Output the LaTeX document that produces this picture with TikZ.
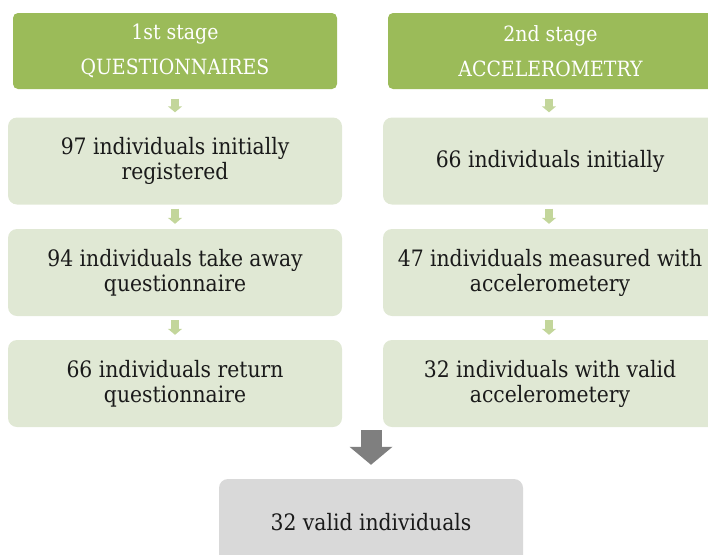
\documentclass[tikz,border=0pt]{standalone}
\usepackage{fontspec}
\setmainfont{DejaVu Serif Condensed}
\usetikzlibrary{arrows.meta}
\definecolor{hdrgreen}{HTML}{9BBB59}
\definecolor{boxgreen}{HTML}{E0E8D4}
\definecolor{arrgreen}{HTML}{C3D69B}
\definecolor{arrgray}{HTML}{7F7F7F}
\definecolor{boxgray}{HTML}{D9D9D9}
\definecolor{txt}{HTML}{1A1A1A}
\tikzset{
  hdr/.style={fill=hdrgreen, rounded corners=5pt, minimum width=324pt, minimum height=76pt,
    text=white, align=center, font=\fontsize{21}{35}\selectfont, inner sep=0pt},
  stagebox/.style={fill=boxgreen, rounded corners=9pt, minimum width=334pt, minimum height=87pt,
    text=txt, align=center, font=\fontsize{22.6}{25}\selectfont, inner sep=0pt},
  finalbox/.style={fill=boxgray, rounded corners=9pt, minimum width=304pt, minimum height=86pt,
    text=txt, align=center, font=\fontsize{22.6}{25}\selectfont, inner sep=0pt},
  smallarr/.style={draw=arrgreen, line width=8pt, -{Triangle[length=6pt,width=14pt]}},
  bigarr/.style={draw=arrgray, line width=21pt, -{Triangle[length=18pt,width=42pt]}}
}
\begin{document}
\begin{tikzpicture}[x=1pt,y=-1pt]
\useasboundingbox (0,0) rectangle (708,554);
\clip (0,0) rectangle (708,554);
% left column
\node[hdr] (h1) at (175,51) {1st stage\\QUESTIONNAIRES};
\node[stagebox] (l1) at (175,161) {97 individuals initially\\registered};
\node[stagebox] (l2) at (175,272.5) {94 individuals take away\\questionnaire};
\node[stagebox] (l3) at (175,383.5) {66 individuals return\\questionnaire};
% right column
\node[hdr, minimum width=325pt] (h2) at (550.5,51) {2nd stage\\ACCELEROMETRY};
\node[stagebox] (r1) at (550,161) {66 individuals initially};
\node[stagebox] (r2) at (550,272.5) {47 individuals measured with\\accelerometery};
\node[stagebox] (r3) at (550,383.5) {32 individuals with valid\\accelerometery};
% final
\node[finalbox] (fin) at (371,522) {32 valid individuals};
% small arrows
\draw[smallarr, shorten <=9.5pt, shorten >=5pt] (h1.south) -- (l1.north);
\draw[smallarr, shorten <=4pt, shorten >=5pt] (l1.south) -- (l2.north);
\draw[smallarr, shorten <=4pt, shorten >=5pt] (l2.south) -- (l3.north);
\draw[smallarr, shorten <=9.5pt, shorten >=5pt] ([xshift=-1.5pt]h2.south) -- ([xshift=-1pt]r1.north);
\draw[smallarr, shorten <=4pt, shorten >=5pt] ([xshift=-1pt]r1.south) -- ([xshift=-1pt]r2.north);
\draw[smallarr, shorten <=4pt, shorten >=5pt] ([xshift=-1pt]r2.south) -- ([xshift=-1pt]r3.north);
% big arrow
\coordinate (merge) at (fin.north |- l3.south);
\draw[bigarr, shorten <=3pt, shorten >=14pt] (merge) -- (fin.north);
\end{tikzpicture}
\end{document}
